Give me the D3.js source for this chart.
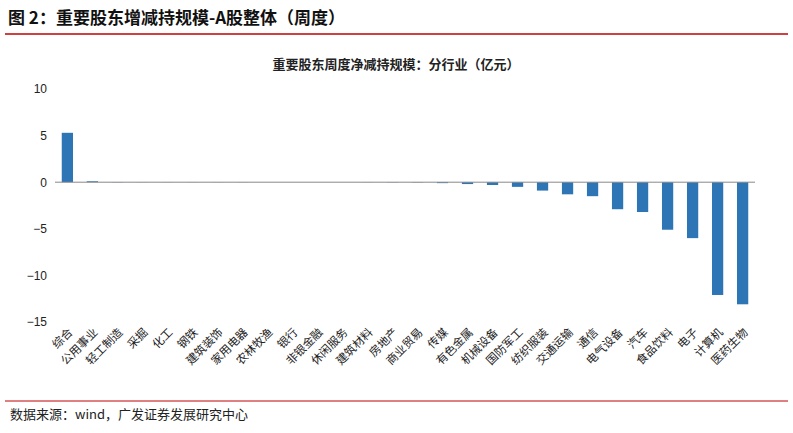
<!DOCTYPE html><html><head><meta charset="utf-8"><script src="https://cdn.jsdelivr.net/npm/d3@7"></script>
<style>body{margin:0;background:#fff}text{font-family:"Noto Sans CJK SC",sans-serif}</style></head><body><svg width="793" height="433"></svg><script>
const categories=["综合","公用事业","轻工制造","采掘","化工","钢铁","建筑装饰","家用电器","农林牧渔","银行","非银金融","休闲服务","建筑材料","房地产","商业贸易","传媒","有色金属","机械设备","国防军工","纺织服装","交通运输","通信","电气设备","汽车","食品饮料","电子","计算机","医药生物"];
const values=[5.3,0.1,0.02,0.01,0.01,0.01,0.01,0.01,0,0,0,0,-0.01,-0.02,-0.03,-0.1,-0.2,-0.3,-0.5,-0.9,-1.3,-1.5,-2.9,-3.2,-5.1,-6.0,-12.1,-13.1];
const yTicks=[10,5,0,-5,-10,-15];
const svg=d3.select("svg");
svg.append("text").attr("x",8).attr("y",24).attr("font-size",17).attr("font-weight","bold").attr("fill","#111").text("图 2：重要股东增减持规模-A股整体（周度）");
svg.append("line").attr("x1",5).attr("x2",788).attr("y1",34).attr("y2",34).attr("stroke","#c00000").attr("stroke-width",1.5);
svg.append("text").attr("x",396).attr("y",69).attr("text-anchor","middle").attr("font-size",13).attr("font-weight","bold").attr("fill","#222").text("重要股东周度净减持规模：分行业（亿元）");
const y=d3.scaleLinear().domain([-15,10]).range([322,89]);
const x=d3.scaleBand().domain(categories).range([55,755]).paddingInner(0.55).paddingOuter(0.27);
const ax=svg.append("g").attr("transform","translate(55,0)").call(d3.axisLeft(y).tickValues(yTicks).tickSize(0).tickPadding(8));
ax.select(".domain").remove();ax.selectAll("text").attr("font-size",12).attr("fill","#222").style("font-family","Arial");
svg.selectAll("rect.b").data(values).join("rect").attr("x",(d,i)=>x(categories[i])).attr("width",x.bandwidth())
 .attr("y",d=>y(Math.max(0,d))).attr("height",d=>Math.abs(y(d)-y(0))).attr("fill","#2e75b6");
svg.append("line").attr("x1",55).attr("x2",755).attr("y1",y(0)).attr("y2",y(0)).attr("stroke","#888");
svg.selectAll("text.c").data(categories).join("text").attr("font-size",11.5).attr("fill","#222").attr("text-anchor","end")
 .attr("transform",d=>`translate(${x(d)+x.bandwidth()/2+6},${333}) rotate(-45)`).text(d=>d);
svg.append("line").attr("x1",5).attr("x2",788).attr("y1",401).attr("y2",401).attr("stroke","#c00000").attr("stroke-width",1);
svg.append("text").attr("x",10).attr("y",419).attr("font-size",13).attr("fill","#222").text("数据来源：wind，广发证券发展研究中心");
</script></body></html>
